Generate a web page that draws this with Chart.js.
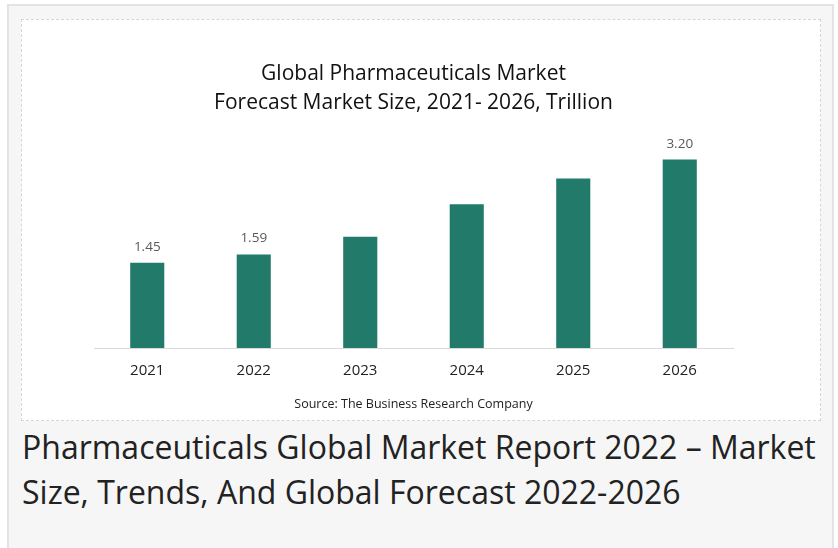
<!DOCTYPE html>
<html>
<head>
<meta charset="utf-8">
<script src="https://cdn.jsdelivr.net/npm/chart.js@4"></script>
<style>
  html, body { margin:0; padding:0; background:#fff; width:838px; height:548px; overflow:hidden; }
  #outer { position:absolute; left:7px; top:4px; width:827px; height:550px; background:#f6f6f6; border:2px solid #e3e3e3; box-sizing:border-box; }
  #panel { position:absolute; left:21px; top:19px; width:800px; height:402px; background:#fff; border:1px dashed #d6d6d6; box-sizing:border-box; }
  #panel canvas { position:absolute; left:0; top:0; }
  #heading { position:absolute; left:22px; top:424px; width:812px; font-family:"Open Sans", sans-serif; font-size:32px; line-height:45px; color:#222; margin:0; font-weight:400; }
</style>
</head>
<body>
<div id="outer"></div>
<div id="panel"><canvas id="c" width="798" height="400"></canvas></div>
<h1 id="heading">Pharmaceuticals Global Market Report 2022 – Market Size, Trends, And Global Forecast 2022-2026</h1>
<script>
const years = ["2021", "2022", "2023", "2024", "2025", "2026"];
const marketSize = [1.45, 1.59, 1.89, 2.44, 2.88, 3.20];
const valueLabels = ["1.45", "1.59", "", "", "", "3.20"];
const titleLines = ["Global Pharmaceuticals Market", "Forecast Market Size, 2021- 2026, Trillion"];
const sourceText = "Source: The Business Research Company";

const labelPlugin = {
  id: 'valueLabels',
  afterDatasetsDraw(chart) {
    const ctx = chart.ctx;
    const meta = chart.getDatasetMeta(0);
    ctx.save();
    ctx.font = '13.5px "Open Sans", sans-serif';
    ctx.fillStyle = '#595959';
    ctx.textAlign = 'center';
    ctx.textBaseline = 'bottom';
    meta.data.forEach((bar, i) => {
      if (valueLabels[i]) ctx.fillText(valueLabels[i], bar.x, bar.y - 9);
    });
    ctx.restore();
  }
};

new Chart(document.getElementById('c'), {
  type: 'bar',
  data: {
    labels: years,
    datasets: [{
      data: marketSize,
      backgroundColor: '#217a6a',
      borderWidth: 0,
      categoryPercentage: 1,
      barPercentage: 0.32
    }]
  },
  options: {
    responsive: false,
    animation: false,
    layout: { padding: { left: 72, right: 87, top: 0, bottom: 8 } },
    plugins: {
      legend: { display: false },
      tooltip: { enabled: false },
      title: {
        display: true,
        text: titleLines,
        color: '#111',
        font: { family: '"Open Sans", sans-serif', size: 21, weight: 'normal', lineHeight: 1.38 },
        padding: { top: 39.5, bottom: 24.5 }
      },
      subtitle: {
        display: true,
        position: 'bottom',
        text: sourceText,
        color: '#222',
        font: { family: '"Open Sans", sans-serif', size: 12.5, weight: 'normal' },
        padding: { top: 11, bottom: 0 }
      }
    },
    scales: {
      x: {
        grid: { display: false },
        border: { display: true, color: '#d9d9d9', width: 1 },
        ticks: { color: '#222', font: { family: '"Open Sans", sans-serif', size: 15 }, padding: 6 }
      },
      y: {
        display: false,
        min: 0,
        max: 3.5
      }
    }
  },
  plugins: [labelPlugin]
});
</script>
</body>
</html>
